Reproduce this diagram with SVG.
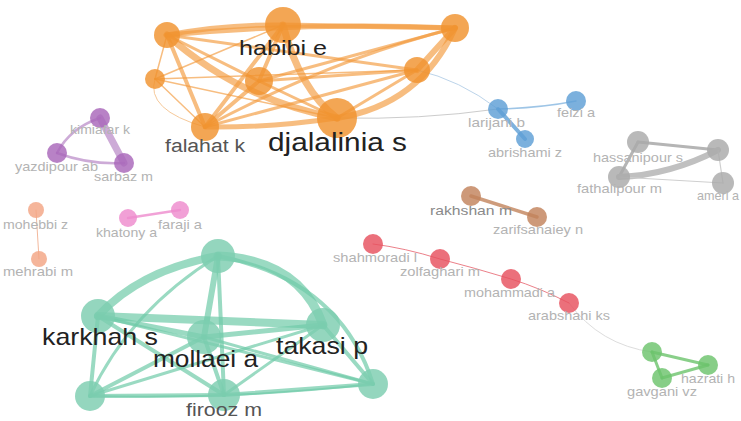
<svg xmlns="http://www.w3.org/2000/svg" width="741" height="421" viewBox="0 0 741 421">
<style>
text{font-family:"Liberation Sans",Arial,sans-serif}
.big{fill:#222;}
.mid{fill:#555;}
.sm{fill:#b3b3b3;font-size:13px}
.dk{fill:#8a8a8a;font-size:13px}
.e{fill:none;stroke-linecap:round}
.eo{stroke:#f39a3c;stroke-opacity:.65}
.et{stroke:#6fcaa8;stroke-opacity:.7}
.n{fill-opacity:.82}
.o{fill:#f0922e}
.t{fill:#7dcdb0}
.p{fill:#a866b9}
.s{fill:#f3a584}
.k{fill:#ee8bcd}
.b{fill:#5e9fd6}
.g{fill:#a9a9a9}
.br{fill:#c2835b}
.r{fill:#e6505e}
.gr{fill:#6cc36c}
</style>
<rect width="741" height="421" fill="#fff"/>
<g id="connectors">
<path class="e" d="M337,118 Q420,120 498,109" stroke="#ccc" stroke-width="1"/>
<path class="e" d="M417,70 Q460,80 498,109" stroke="#bcd4ea" stroke-width="1"/>
<path class="e" d="M155,79 Q145,110 205,127" stroke="#f6c99a" stroke-width="1"/>
<path class="e" d="M569,303 Q600,345 652,352" stroke="#ddd" stroke-width="1"/>
<path class="e eo" d="M167,35 Q225,24 283,25" stroke-width="5"/>
<path class="e eo" d="M167,35 Q310,22 455,28" stroke-width="5"/>
<path class="e eo" d="M283,25 L455,28" stroke-width="5"/>
<path class="e eo" d="M167,35 Q240,100 337,118" stroke-width="7"/>
<path class="e eo" d="M283,25 Q300,90 337,118" stroke-width="7"/>
<path class="e eo" d="M455,28 Q420,105 337,118" stroke-width="6"/>
<path class="e eo" d="M455,28 L417,70" stroke-width="6"/>
<path class="e eo" d="M205,127 Q270,128 337,118" stroke-width="5"/>
<path class="e eo" d="M283,25 L205,127" stroke-width="4"/>
<path class="e eo" d="M283,25 L259,81" stroke-width="4"/>
<path class="e eo" d="M259,81 L205,127" stroke-width="4"/>
<path class="e eo" d="M167,35 L205,127" stroke-width="4"/>
<path class="e eo" d="M167,35 L259,81" stroke-width="3"/>
<path class="e eo" d="M259,81 L417,70" stroke-width="3"/>
<path class="e eo" d="M259,81 L337,118" stroke-width="3"/>
<path class="e eo" d="M205,127 L417,70" stroke-width="3"/>
<path class="e eo" d="M167,35 L417,70" stroke-width="3"/>
<path class="e eo" d="M455,28 L259,81" stroke-width="3"/>
<path class="e eo" d="M455,28 Q330,60 205,127" stroke-width="3"/>
<path class="e eo" d="M417,70 L337,118" stroke-width="3"/>
<path class="e eo" d="M155,79 L167,35" stroke-width="1.5"/>
<path class="e eo" d="M155,79 L205,127" stroke-width="1.5"/>
<path class="e eo" d="M155,79 L417,70" stroke-width="1.5"/>
<path class="e eo" d="M155,79 L337,118" stroke-width="1.5"/>
<path class="e eo" d="M155,79 L283,25" stroke-width="1.5"/>
<path class="e" d="M100,118 L124,163" stroke="#b888c6" stroke-opacity=".7" stroke-width="7"/>
<path class="e" d="M100,118 Q70,128 57,153" stroke="#b888c6" stroke-opacity=".7" stroke-width="2.5"/>
<path class="e" d="M57,153 Q90,165 124,163" stroke="#b888c6" stroke-opacity=".7" stroke-width="2.5"/>
<path class="e" d="M36,210 L39,259" stroke="#f3b89c" stroke-width="1"/>
<path class="e" d="M128,218 L180,210" stroke="#ee8bcd" stroke-opacity=".8" stroke-width="2.5"/>
<path class="e" d="M498,109 Q540,108 576,101" stroke="#5e9fd6" stroke-opacity=".6" stroke-width="1.5"/>
<path class="e" d="M498,109 L525,139" stroke="#5e9fd6" stroke-opacity=".8" stroke-width="4"/>
<path class="e" d="M638,142 L718,150" stroke="#b5b5b5" stroke-width="3"/>
<path class="e" d="M638,142 L619,177" stroke="#b5b5b5" stroke-width="3"/>
<path class="e" d="M619,177 Q670,175 718,150" stroke="#c0c0c0" stroke-width="6"/>
<path class="e" d="M619,177 L723,183" stroke="#cfcfcf" stroke-width="1.2"/>
<path class="e" d="M718,150 L723,183" stroke="#cfcfcf" stroke-width="1.2"/>
<path class="e" d="M471,196 L537,217" stroke="#c2835b" stroke-opacity=".8" stroke-width="3.5"/>
<path class="e" d="M373,244 Q405,248 440,259 Q475,268 511,279 Q540,288 569,303" stroke="#e6606c" stroke-opacity=".8" stroke-width="1"/>
<path class="e" d="M652,352 L708,365" stroke="#6cc36c" stroke-opacity=".8" stroke-width="3"/>
<path class="e" d="M652,352 L662,378" stroke="#6cc36c" stroke-opacity=".8" stroke-width="3"/>
<path class="e" d="M662,378 L708,365" stroke="#6cc36c" stroke-opacity=".8" stroke-width="3"/>
<path class="e et" d="M218,256 Q140,270 98,316" stroke-width="8"/>
<path class="e et" d="M218,256 Q300,260 323,325" stroke-width="9"/>
<path class="e et" d="M98,316 L323,325" stroke-width="8"/>
<path class="e et" d="M218,256 L204,337" stroke-width="6"/>
<path class="e et" d="M218,256 Q130,310 90,396" stroke-width="3"/>
<path class="e et" d="M218,256 L224,395" stroke-width="4"/>
<path class="e et" d="M218,256 Q340,280 373,384" stroke-width="4"/>
<path class="e et" d="M98,316 L204,337" stroke-width="5"/>
<path class="e et" d="M98,316 L90,396" stroke-width="4"/>
<path class="e et" d="M98,316 L224,395" stroke-width="4"/>
<path class="e et" d="M98,316 L373,384" stroke-width="3"/>
<path class="e et" d="M204,337 L323,325" stroke-width="5"/>
<path class="e et" d="M204,337 L90,396" stroke-width="4"/>
<path class="e et" d="M204,337 L224,395" stroke-width="4"/>
<path class="e et" d="M204,337 L373,384" stroke-width="3"/>
<path class="e et" d="M323,325 L90,396" stroke-width="3"/>
<path class="e et" d="M323,325 L224,395" stroke-width="3"/>
<path class="e et" d="M323,325 L373,384" stroke-width="4"/>
<path class="e et" d="M90,396 L224,395" stroke-width="4"/>
<path class="e et" d="M224,395 L373,384" stroke-width="4"/>
<path class="e et" d="M90,396 Q230,400 373,384" stroke-width="2"/>
</g>
<g id="node-o1"><circle class="n o" cx="167" cy="35" r="13"/></g>
<g id="node-habibi"><circle class="n o" cx="283" cy="25" r="18"/><text class="big" x="239" y="55" font-size="21" textLength="88" lengthAdjust="spacingAndGlyphs">habibi e</text></g>
<g id="node-o3"><circle class="n o" cx="455" cy="28" r="14"/></g>
<g id="node-o4"><circle class="n o" cx="155" cy="79" r="10"/></g>
<g id="node-o5"><circle class="n o" cx="259" cy="81" r="14"/></g>
<g id="node-o6"><circle class="n o" cx="417" cy="70" r="13"/></g>
<g id="node-falahat"><circle class="n o" cx="205" cy="127" r="14"/><text class="mid" x="165" y="152" font-size="18" textLength="80" lengthAdjust="spacingAndGlyphs">falahat k</text></g>
<g id="node-djalalinia"><circle class="n o" cx="337" cy="118" r="20"/><text class="big" x="268" y="151" font-size="26" textLength="139" lengthAdjust="spacingAndGlyphs">djalalinia s</text></g>
<g id="node-kimiafar"><circle class="n p" cx="100" cy="118" r="10"/><text class="sm" x="70" y="134" textLength="60" lengthAdjust="spacingAndGlyphs">kimiafar k</text></g>
<g id="node-yazdipour"><circle class="n p" cx="57" cy="153" r="10"/><text class="sm" x="15" y="171" textLength="83" lengthAdjust="spacingAndGlyphs">yazdipour ab</text></g>
<g id="node-sarbaz"><circle class="n p" cx="124" cy="163" r="10"/><text class="sm" x="94" y="181" textLength="59" lengthAdjust="spacingAndGlyphs">sarbaz m</text></g>
<g id="node-mohebbi"><circle class="n s" cx="36" cy="210" r="8"/><text class="sm" x="3" y="229" textLength="65" lengthAdjust="spacingAndGlyphs">mohebbi z</text></g>
<g id="node-mehrabi"><circle class="n s" cx="39" cy="259" r="8"/><text class="sm" x="3" y="276" textLength="70" lengthAdjust="spacingAndGlyphs">mehrabi m</text></g>
<g id="node-khatony"><circle class="n k" cx="128" cy="218" r="9"/><text class="sm" x="96" y="237" textLength="61" lengthAdjust="spacingAndGlyphs">khatony a</text></g>
<g id="node-faraji"><circle class="n k" cx="180" cy="210" r="9"/><text class="sm" x="158" y="229" textLength="44" lengthAdjust="spacingAndGlyphs">faraji a</text></g>
<g id="node-larijani"><circle class="n b" cx="498" cy="109" r="10"/><text class="sm" x="468" y="127" textLength="57" lengthAdjust="spacingAndGlyphs">larijani b</text></g>
<g id="node-feizi"><circle class="n b" cx="576" cy="101" r="10"/><text class="sm" x="557" y="117" textLength="38" lengthAdjust="spacingAndGlyphs">feizi a</text></g>
<g id="node-abrishami"><circle class="n b" cx="525" cy="139" r="9"/><text class="sm" x="488" y="157" textLength="74" lengthAdjust="spacingAndGlyphs">abrishami z</text></g>
<g id="node-hassanipour"><circle class="n g" cx="638" cy="142" r="11"/><text class="sm" x="593" y="162" textLength="90" lengthAdjust="spacingAndGlyphs">hassanipour s</text></g>
<g id="node-g2"><circle class="n g" cx="718" cy="150" r="11"/></g>
<g id="node-fathalipour"><circle class="n g" cx="619" cy="177" r="11"/><text class="sm" x="577" y="193" textLength="85" lengthAdjust="spacingAndGlyphs">fathalipour m</text></g>
<g id="node-ameri"><circle class="n g" cx="723" cy="183" r="11"/><text class="sm" x="697" y="200" textLength="42" lengthAdjust="spacingAndGlyphs">ameri a</text></g>
<g id="node-rakhshan"><circle class="n br" cx="471" cy="196" r="10"/><text class="dk" x="430" y="215" textLength="82" lengthAdjust="spacingAndGlyphs">rakhshan m</text></g>
<g id="node-zarifsanaiey"><circle class="n br" cx="537" cy="217" r="10"/><text class="sm" x="493" y="234" textLength="90" lengthAdjust="spacingAndGlyphs">zarifsanaiey n</text></g>
<g id="node-shahmoradi"><circle class="n r" cx="373" cy="244" r="10"/><text class="sm" x="333" y="262" textLength="84" lengthAdjust="spacingAndGlyphs">shahmoradi l</text></g>
<g id="node-zolfaghari"><circle class="n r" cx="440" cy="259" r="10"/><text class="sm" x="400" y="276" textLength="80" lengthAdjust="spacingAndGlyphs">zolfaghari m</text></g>
<g id="node-mohammadi"><circle class="n r" cx="511" cy="279" r="10"/><text class="sm" x="464" y="297" textLength="91" lengthAdjust="spacingAndGlyphs">mohammadi a</text></g>
<g id="node-arabshahi"><circle class="n r" cx="569" cy="303" r="10"/><text class="sm" x="528" y="320" textLength="82" lengthAdjust="spacingAndGlyphs">arabshahi ks</text></g>
<g id="node-gr1"><circle class="n gr" cx="652" cy="352" r="10"/></g>
<g id="node-hazrati"><circle class="n gr" cx="708" cy="365" r="10"/><text class="sm" x="681" y="383" textLength="54" lengthAdjust="spacingAndGlyphs">hazrati h</text></g>
<g id="node-gavgani"><circle class="n gr" cx="662" cy="378" r="10"/><text class="sm" x="627" y="396" textLength="70" lengthAdjust="spacingAndGlyphs">gavgani vz</text></g>
<g id="node-t1"><circle class="n t" cx="218" cy="256" r="17"/></g>
<g id="node-karkhah"><circle class="n t" cx="98" cy="316" r="17"/><text class="big" x="42" y="345" font-size="24" textLength="116" lengthAdjust="spacingAndGlyphs">karkhah s</text></g>
<g id="node-mollaei"><circle class="n t" cx="204" cy="337" r="17"/><text class="big" x="153" y="367" font-size="24" textLength="105" lengthAdjust="spacingAndGlyphs">mollaei a</text></g>
<g id="node-takasi"><circle class="n t" cx="323" cy="325" r="17"/><text class="big" x="276" y="354" font-size="24" textLength="92" lengthAdjust="spacingAndGlyphs">takasi p</text></g>
<g id="node-t5"><circle class="n t" cx="90" cy="396" r="15"/></g>
<g id="node-firooz"><circle class="n t" cx="224" cy="395" r="16"/><text class="mid" x="186" y="416" font-size="18" textLength="76" lengthAdjust="spacingAndGlyphs">firooz m</text></g>
<g id="node-t7"><circle class="n t" cx="373" cy="384" r="15"/></g>
</svg>
